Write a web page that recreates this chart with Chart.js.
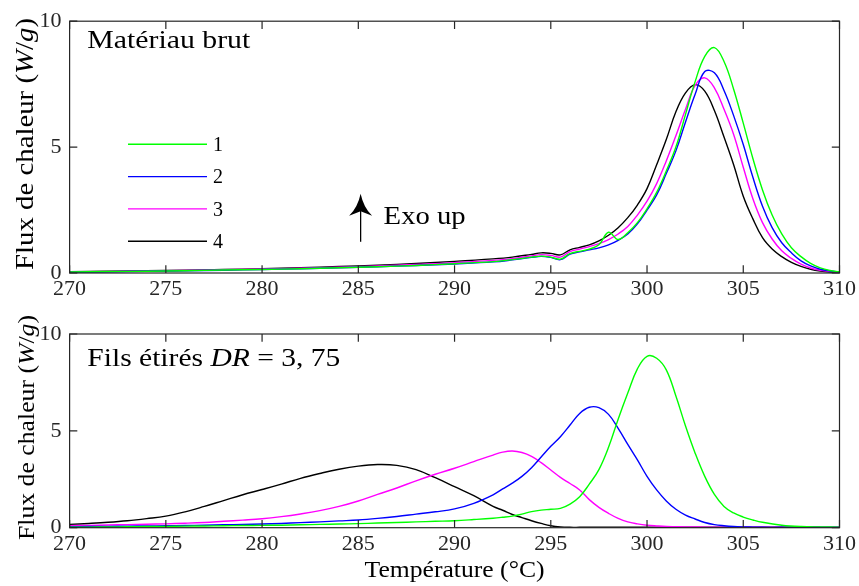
<!DOCTYPE html>
<html>
<head>
<meta charset="utf-8">
<title>Flux de chaleur</title>
<script src="https://cdn.jsdelivr.net/npm/chart.js@4.4.1/dist/chart.umd.min.js"></script>
<style>
    html, body { margin: 0; padding: 0; background: #fff; }
    #wrap { position: relative; width: 859px; height: 586px; }
    .panel { position: absolute; left: 0; width: 859px; }
</style>
</head>
<body>
<div id="wrap">
    <div class="panel" style="top:0;height:300px"><canvas id="topChart" width="859" height="300"></canvas></div>
    <div class="panel" style="top:300px;height:286px"><canvas id="bottomChart" width="859" height="286"></canvas></div>
</div>
<script>
// ---- data ----
var seriesNames = ['1', '2', '3', '4'];
var seriesColors = ['#00ff00', '#0000ff', '#ff00ff', '#000000'];
var xTicks = { min: 270, max: 310, step: 5 };
var yTicks = { min: 0, max: 10, step: 5 };

// Matériau brut
var topTemps = [270, 272, 274, 276, 278, 280, 282, 284, 286, 288, 290, 292,
    293, 294, 294.5, 295, 295.5, 296, 296.5, 297, 297.5, 298, 298.5, 299, 299.5,
    300, 300.5, 301, 301.5, 302, 302.5, 303, 303.5, 304, 304.5, 305, 305.5,
    306, 306.5, 307, 307.5, 308, 308.5, 309, 309.5, 310];
var topS1 = [0.04, 0.06, 0.07, 0.09, 0.12, 0.14, 0.17, 0.21, 0.25, 0.30, 0.37, 0.45,
    0.53, 0.63, 0.67, 0.63, 0.55, 0.77, 0.86, 0.95, 1.12, 1.62, 1.33, 1.60, 2.00,
    2.55, 3.20, 4.05, 5.00, 6.30, 7.60, 8.60, 8.95, 8.40, 7.30, 5.95, 4.55,
    3.30, 2.30, 1.55, 1.00, 0.65, 0.38, 0.20, 0.10, 0.05];
var topS2 = [0.03, 0.05, 0.07, 0.09, 0.11, 0.14, 0.17, 0.21, 0.25, 0.30, 0.36, 0.44,
    0.52, 0.62, 0.66, 0.62, 0.53, 0.75, 0.84, 0.92, 1.00, 1.12, 1.30, 1.55, 1.95,
    2.50, 3.10, 3.95, 4.85, 6.00, 7.10, 8.00, 7.95, 7.25, 6.25, 5.10, 3.80,
    2.65, 1.80, 1.20, 0.80, 0.48, 0.28, 0.15, 0.08, 0.04];
var topS3 = [0.04, 0.06, 0.08, 0.10, 0.13, 0.16, 0.19, 0.23, 0.28, 0.34, 0.41, 0.50,
    0.57, 0.68, 0.73, 0.70, 0.63, 0.85, 0.95, 1.05, 1.17, 1.33, 1.55, 1.85, 2.30,
    2.85, 3.55, 4.45, 5.45, 6.50, 7.45, 7.75, 7.35, 6.50, 5.50, 4.20, 2.95,
    2.00, 1.35, 0.88, 0.58, 0.35, 0.20, 0.11, 0.06, 0.03];
var topS4 = [0.05, 0.07, 0.09, 0.11, 0.14, 0.17, 0.21, 0.26, 0.31, 0.38, 0.46, 0.56,
    0.63, 0.74, 0.80, 0.78, 0.72, 0.92, 1.02, 1.12, 1.28, 1.50, 1.80, 2.20, 2.70,
    3.35, 4.30, 5.30, 6.40, 7.15, 7.48, 7.22, 6.45, 5.40, 4.30, 3.05, 2.15,
    1.40, 0.95, 0.65, 0.42, 0.26, 0.15, 0.08, 0.04, 0.02];

// Fils étirés DR = 3,75
var bottomTemps = [270, 271, 272, 273, 274, 275, 276, 277, 278, 279, 280, 281, 282,
    283, 284, 285, 286, 287, 288, 289, 290, 291, 292,
    292.5, 293, 293.5, 294, 294.5, 295, 295.5, 296, 296.5, 297, 297.5, 298, 298.5,
    299, 299.5, 300, 300.5, 301, 301.5, 302, 302.5, 303, 303.5, 304, 304.5, 305,
    305.5, 306, 307, 308, 309, 310];
var bottomS1 = [0.02, 0.03, 0.04, 0.05, 0.06, 0.07, 0.08, 0.09, 0.10, 0.11, 0.12, 0.13, 0.15,
    0.17, 0.19, 0.21, 0.24, 0.27, 0.30, 0.33, 0.36, 0.42, 0.49,
    0.54, 0.60, 0.70, 0.83, 0.91, 0.95, 1.00, 1.22, 1.60, 2.25, 3.00, 4.15, 5.60,
    6.95, 8.20, 8.85, 8.75, 8.15, 6.80, 5.25, 3.85, 2.65, 1.72, 1.10, 0.76, 0.55,
    0.40, 0.28, 0.13, 0.06, 0.04, 0.03];
var bottomS2 = [0.05, 0.06, 0.07, 0.08, 0.09, 0.10, 0.11, 0.13, 0.15, 0.17, 0.19, 0.22, 0.26,
    0.30, 0.35, 0.40, 0.48, 0.58, 0.70, 0.82, 0.97, 1.26, 1.70,
    2.00, 2.30, 2.65, 3.10, 3.65, 4.20, 4.70, 5.30, 5.90, 6.22, 6.20, 5.85, 5.13,
    4.30, 3.50, 2.65, 1.95, 1.38, 0.95, 0.65, 0.45, 0.27, 0.16, 0.10, 0.06, 0.04,
    0.03, 0.02, 0.02, 0.02, 0.02, 0.02];
var bottomS3 = [0.10, 0.12, 0.14, 0.16, 0.18, 0.20, 0.23, 0.27, 0.33, 0.39, 0.46, 0.57, 0.71,
    0.88, 1.10, 1.38, 1.72, 2.05, 2.42, 2.76, 3.07, 3.41, 3.75,
    3.90, 3.96, 3.88, 3.68, 3.36, 2.98, 2.60, 2.28, 1.95, 1.45, 1.05, 0.74, 0.48,
    0.30, 0.20, 0.13, 0.09, 0.06, 0.05, 0.04, 0.04, 0.03, 0.03, 0.03, 0.03, 0.03,
    0.03, 0.03, 0.03, 0.03, 0.03, 0.04];
var bottomS4 = [0.17, 0.22, 0.28, 0.36, 0.47, 0.60, 0.82, 1.10, 1.40, 1.70, 1.97, 2.25, 2.55,
    2.80, 3.02, 3.18, 3.26, 3.22, 3.00, 2.58, 2.12, 1.65, 1.10,
    0.90, 0.68, 0.52, 0.36, 0.22, 0.10, 0.04, 0.02, 0.02, 0.02, 0.02, 0.02, 0.02,
    0.02, 0.02, 0.02, 0.02, 0.02, 0.02, 0.02, 0.02, 0.02, 0.02, 0.02, 0.02, 0.02,
    0.02, 0.02, 0.02, 0.02, 0.02, null];

// ---- styling ----
var SERIF = '"Liberation Serif", "Times New Roman", serif';
var AXIS_COLOR = '#262626';
var TICK_LEN = 7.7;

function font(size, italic) {
    return (italic ? 'italic ' : '') + size + 'px ' + SERIF;
}

/** Draw runs of text (some italic), stretched to a target width (CM is wider than Times) */
function drawRuns(ctx, runs, size, targetW, x, y, align, rotate) {
    var widths = [], total = 0;
    runs.forEach(function (r) {
        ctx.font = font(size, r.it);
        var w = ctx.measureText(r.t).width;
        widths.push(w);
        total += w;
    });
    var sx = targetW / total;
    ctx.save();
    ctx.translate(x, y);
    if (rotate) ctx.rotate(-Math.PI / 2);
    ctx.scale(sx, 1);
    ctx.fillStyle = '#000';
    ctx.textBaseline = 'alphabetic';
    ctx.textAlign = 'left';
    var cx = align === 'center' ? -total / 2 : 0;
    runs.forEach(function (r, i) {
        ctx.font = font(size, r.it);
        ctx.fillText(r.t, cx, 0);
        cx += widths[i];
    });
    ctx.restore();
}

// box + inward ticks on all four sides (MATLAB look)
var boxPlugin = {
    id: 'matlabBox',
    afterDatasetsDraw: function (chart) {
        var ctx = chart.ctx, a = chart.chartArea, sx = chart.scales.x, sy = chart.scales.y;
        ctx.save();
        ctx.strokeStyle = AXIS_COLOR;
        ctx.lineWidth = 1.2;
        ctx.beginPath();
        sx.ticks.forEach(function (t) {
            var px = sx.getPixelForValue(t.value);
            ctx.moveTo(px, a.bottom); ctx.lineTo(px, a.bottom - TICK_LEN);
            ctx.moveTo(px, a.top); ctx.lineTo(px, a.top + TICK_LEN);
        });
        sy.ticks.forEach(function (t) {
            var py = sy.getPixelForValue(t.value);
            ctx.moveTo(a.left, py); ctx.lineTo(a.left + TICK_LEN, py);
            ctx.moveTo(a.right, py); ctx.lineTo(a.right - TICK_LEN, py);
        });
        ctx.stroke();
        ctx.strokeRect(a.left, a.top, a.right - a.left, a.bottom - a.top);
        ctx.restore();
    }
};

var yLabelRuns = [{ t: 'Flux de chaleur (' }, { t: 'W', it: true }, { t: '/' }, { t: 'g', it: true }, { t: ')' }];

var topAnnotations = {
    id: 'topAnnotations',
    afterDraw: function (chart) {
        var ctx = chart.ctx, a = chart.chartArea, sx = chart.scales.x, sy = chart.scales.y;
        drawRuns(ctx, yLabelRuns, 25, 252, 33, 144, 'center', true);
        drawRuns(ctx, [{ t: 'Matériau brut' }], 24.5, 163, a.left + 17.7, a.top + 26.5, 'left');

        // legend
        ctx.save();
        chart.data.datasets.forEach(function (ds, i) {
            var y = 144.3 + i * 32.3;
            ctx.strokeStyle = ds.borderColor;
            ctx.lineWidth = 1.4;
            ctx.beginPath();
            ctx.moveTo(128, y);
            ctx.lineTo(207, y);
            ctx.stroke();
            ctx.fillStyle = '#000';
            ctx.font = font(20);
            ctx.textBaseline = 'alphabetic';
            ctx.fillText(ds.label, 213, y + 6.8);
        });
        ctx.restore();

        // "Exo up" arrow
        var ax = sx.getPixelForValue(285.12);
        var yTip = sy.getPixelForValue(3.15);
        var yEnd = sy.getPixelForValue(1.24);
        ctx.save();
        ctx.strokeStyle = '#000';
        ctx.fillStyle = '#000';
        ctx.lineWidth = 1.3;
        ctx.beginPath();
        ctx.moveTo(ax, yEnd);
        ctx.lineTo(ax, yTip + 16);
        ctx.stroke();
        ctx.beginPath();
        ctx.moveTo(ax, yTip);
        ctx.quadraticCurveTo(ax + 3, yTip + 14, ax + 11.5, yTip + 22);
        ctx.lineTo(ax, yTip + 17.5);
        ctx.lineTo(ax - 11.5, yTip + 22);
        ctx.quadraticCurveTo(ax - 3, yTip + 14, ax, yTip);
        ctx.fill();
        ctx.restore();
        drawRuns(ctx, [{ t: 'Exo up' }], 24.5, 82, ax + 23, yTip + 30, 'left');
    }
};

var bottomAnnotations = {
    id: 'bottomAnnotations',
    afterDraw: function (chart) {
        var ctx = chart.ctx, a = chart.chartArea;
        drawRuns(ctx, yLabelRuns, 22.5, 225, 34, 127.5, 'center', true);
        drawRuns(ctx, [{ t: 'Fils étirés ' }, { t: 'DR', it: true }, { t: ' = 3, 75' }],
            24.5, 253, a.left + 17.7, a.top + 32, 'left');
        drawRuns(ctx, [{ t: 'Température (°C)' }], 23, 180, (a.left + a.right) / 2, 277, 'center');
    }
};

function makePoints(temps, values) {
    return temps.map(function (t, i) { return { x: t, y: values[i] }; });
}

function panelConfig(temps, series, panel) {
    return {
        type: 'line',
        data: {
            datasets: series.map(function (vals, i) {
                return {
                    label: seriesNames[i],
                    data: makePoints(temps, vals),
                    borderColor: seriesColors[i],
                    backgroundColor: seriesColors[i],
                    borderWidth: 1.4,
                    pointRadius: 0,
                    fill: false,
                    tension: 0.4
                };
            })
        },
        options: {
            responsive: false,
            animation: false,
            events: [],
            layout: { padding: panel.padding },
            plugins: { legend: { display: false }, tooltip: { enabled: false } },
            scales: {
                x: {
                    type: 'linear',
                    min: xTicks.min,
                    max: xTicks.max,
                    ticks: {
                        stepSize: xTicks.step,
                        autoSkip: false,
                        maxRotation: 0,
                        padding: panel.xPad,
                        color: AXIS_COLOR,
                        font: { family: SERIF, size: 22 }
                    },
                    grid: { display: false, drawTicks: false },
                    border: { display: false },
                    afterFit: function (s) { s.height = panel.xAxisH; }
                },
                y: {
                    min: yTicks.min,
                    max: yTicks.max,
                    ticks: {
                        stepSize: yTicks.step,
                        padding: 8,
                        color: AXIS_COLOR,
                        font: { family: SERIF, size: 22 }
                    },
                    grid: { display: false, drawTicks: false },
                    border: { display: false },
                    afterFit: function (s) { s.width = 69.6; }
                }
            }
        },
        plugins: [boxPlugin, panel.annotations]
    };
}

new Chart(document.getElementById('topChart'), panelConfig(topTemps,
    [topS1, topS2, topS3, topS4],
    { padding: { left: 0, right: 17, top: 20, bottom: 0 }, xAxisH: 27, xPad: 3, annotations: topAnnotations }));

new Chart(document.getElementById('bottomChart'), panelConfig(bottomTemps,
    [bottomS1, bottomS2, bottomS3, bottomS4],
    { padding: { left: 0, right: 17, top: 34, bottom: 0 }, xAxisH: 58.3, xPad: 3, annotations: bottomAnnotations }));
</script>
</body>
</html>
